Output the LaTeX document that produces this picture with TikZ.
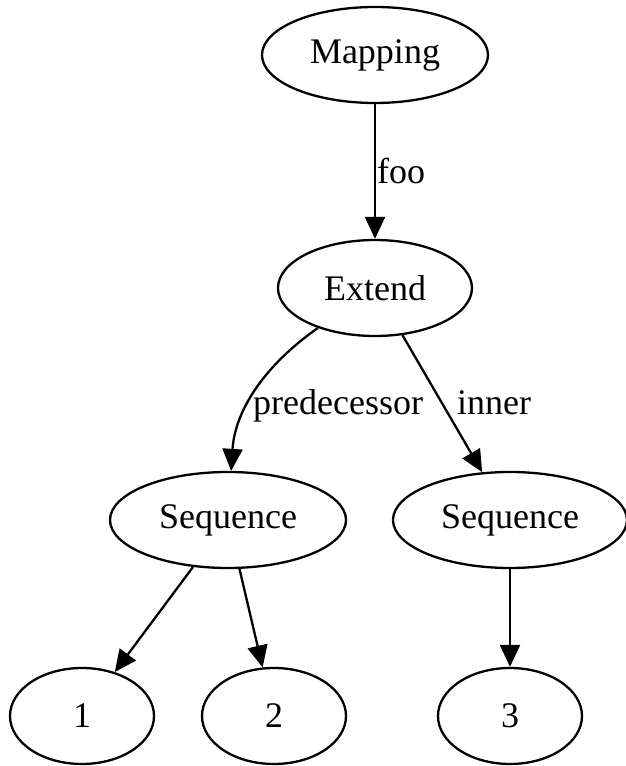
\documentclass[tikz,border=0pt]{standalone}
\usepackage{fontspec}
\setmainfont{Liberation Serif}
\usetikzlibrary{shapes.geometric,arrows.meta}
\begin{document}
\begin{tikzpicture}[x=1pt,y=1pt,
  every node/.style={font=\fontsize{36}{43}\selectfont},
  nd/.style={ellipse,draw,line width=2.3pt,minimum height=96pt,inner sep=0pt},
  conn/.style={draw,line width=2.3pt,-{Triangle[length=22pt,width=20pt]}},
  lbl/.style={anchor=base west,inner sep=0pt}]
\useasboundingbox (0,0) rectangle (626,766);
\node[nd,minimum width=226pt] (map) at (375,711) {Mapping};
\node[nd,minimum width=194pt] (ext) at (375,478) {Extend};
\node[nd,minimum width=236pt] (sl) at (228,246) {Sequence};
\node[nd,minimum width=234pt] (sr) at (510,246) {Sequence};
\node[nd,minimum width=144pt] (n1) at (82,50) {1};
\node[nd,minimum width=144pt] (n2) at (274,50) {2};
\node[nd,minimum width=144pt] (n3) at (510,50) {3};
\draw[conn] (map) -- (ext);
\draw[conn] (ext) .. controls (265,401) and (235,356) .. (sl);
\draw[conn] (ext) -- (sr);
\draw[conn] (sl) -- (n1);
\draw[conn] (sl) -- (n2);
\draw[conn] (sr) -- (n3);
\node[lbl] (lfoo) at (377,582) {foo};
\node[lbl] (lpre) at (253,351) {predecessor};
\node[lbl] (linn) at (457,351) {inner};
\end{tikzpicture}
\end{document}
